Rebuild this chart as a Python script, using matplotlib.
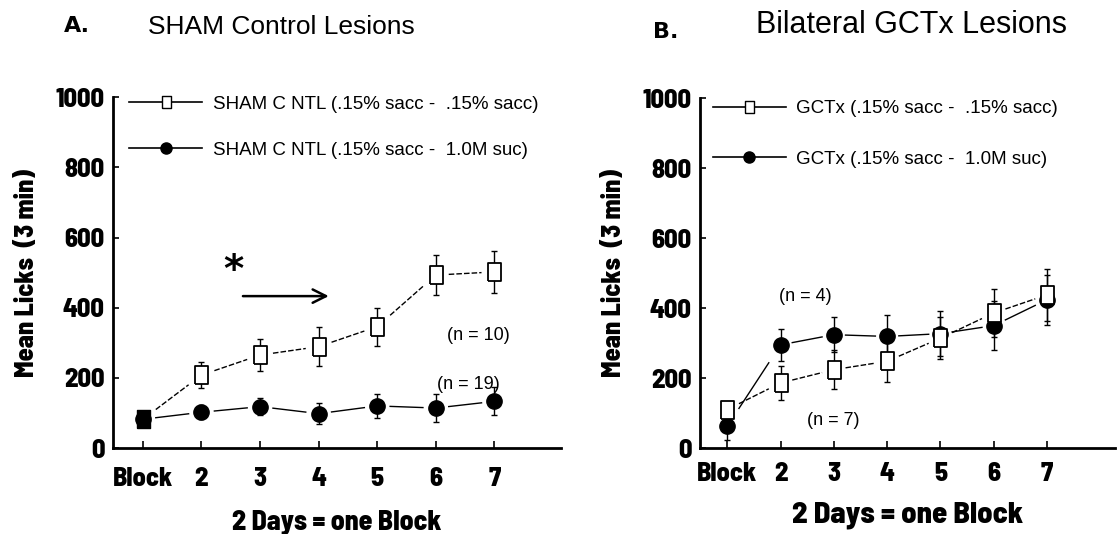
import numpy as np
import matplotlib
matplotlib.use("Agg")
import matplotlib.pyplot as plt
from matplotlib.font_manager import FontProperties

# block positions (1 = "Block" baseline)
blocks = [1, 2, 3, 4, 5, 6, 7]
block_labels = ["Block", "2", "3", "4", "5", "6", "7"]

# A. SHAM control lesions
sham_sacc = [82, 208, 265, 289, 346, 493, 502]
sham_sacc_err = [15, 38, 45, 55, 54, 58, 60]
sham_suc = [82, 102, 118, 98, 120, 114, 133]
sham_suc_err = [15, 20, 25, 30, 35, 40, 40]

# B. Bilateral GCTx lesions
gctx_sacc = [110, 186, 224, 248, 314, 386, 438]
gctx_sacc_err = [20, 48, 55, 60, 60, 70, 75]
gctx_suc = [62, 295, 324, 319, 327, 350, 424]
gctx_suc_err = [38, 45, 50, 60, 65, 70, 72]

sq = [(-0.36, -0.5), (0.36, -0.5), (0.36, 0.5), (-0.36, 0.5), (-0.36, -0.5)]
narrow = ["Barlow Semi Condensed", "Barlow Condensed", "DejaVu Sans"]
plain = ["Liberation Sans", "Arimo", "DejaVu Sans"]


def bold(size):
    return FontProperties(family=narrow, weight=800, size=size)


def broken_line(ax, x, y, ls):
    # thin connecting segments that stop short of the markers
    x = np.asarray(x, float); y = np.asarray(y, float)
    for i in range(len(x) - 1):
        dx = x[i+1] - x[i]; dy = y[i+1] - y[i]
        ax.plot([x[i] + 0.22*dx, x[i+1] - 0.22*dx],
                [y[i] + 0.22*dy, y[i+1] - 0.22*dy],
                color="black", lw=1.0, ls=ls, zorder=2)


def panel(ax, s1, e1, s2, e2, lab1, lab2, xmax, leg_anchor, leg_space,
          xpad, fill_first=False):
    broken_line(ax, blocks, s1, (0, (4, 1.5)))
    broken_line(ax, blocks, s2, "-")
    ax.errorbar(blocks, s1, yerr=e1, fmt="none", ecolor="black",
                elinewidth=1, capsize=2.5, zorder=3)
    ax.errorbar(blocks, s2, yerr=e2, fmt="none", ecolor="black",
                elinewidth=1, capsize=2.5, zorder=3)
    ax.plot(blocks, s2, ls="none", marker="o", ms=11, mfc="black",
            mec="black", zorder=4)
    if fill_first:
        ax.plot(blocks[1:], s1[1:], ls="none", marker=sq, ms=13, mfc="white",
                mec="black", mew=1.3, zorder=5)
        ax.plot(blocks[:1], s1[:1], ls="none", marker=sq, ms=13,
                mfc="black", mec="black", zorder=6)
    else:
        ax.plot(blocks, s1, ls="none", marker=sq, ms=13, mfc="white",
                mec="black", mew=1.3, zorder=5)
    # legend
    h1, = ax.plot([], [], color="black", lw=1.2, marker=sq, ms=9,
                  mfc="white", mec="black")
    h2, = ax.plot([], [], color="black", lw=1.2, marker="o", ms=8,
                  mfc="black", mec="black")
    ax.legend([h1, h2], [lab1, lab2], loc="upper left", frameon=False,
              bbox_to_anchor=leg_anchor, borderaxespad=0, borderpad=0,
              handlelength=3.9, handletextpad=0.55, labelspacing=leg_space,
              prop=dict(family=plain, size=13.5))
    ax.set_xlim(0.49, xmax)
    ax.set_ylim(0, 1000)
    ax.set_xticks(blocks)
    ax.set_xticklabels(block_labels)
    ax.set_yticks([0, 200, 400, 600, 800, 1000])
    for lbl in ax.get_xticklabels() + ax.get_yticklabels():
        lbl.set_fontproperties(bold(19))
    ax.tick_params(axis="x", direction="in", length=5, width=1.2, pad=xpad)
    ax.tick_params(axis="y", direction="in", length=4, width=1.2, pad=6)
    for s in ["top", "right"]:
        ax.spines[s].set_visible(False)
    for s in ["left", "bottom"]:
        ax.spines[s].set_linewidth(2)
    ax.set_ylabel("Mean Licks  (3 min)", fontproperties=bold(19), labelpad=12)


fig = plt.figure(figsize=(11.19, 5.34), dpi=100)
axA = fig.add_axes([0.101, 0.161, 0.400, 0.657])
axB = fig.add_axes([0.6256, 0.161, 0.371, 0.655])

panel(axA, sham_sacc, sham_sacc_err, sham_suc, sham_suc_err,
      "SHAM C NTL (.15% sacc -  .15% sacc)",
      "SHAM C NTL (.15% sacc -  1.0M suc)", 8.13,
      (0.036, 1.005), 1.55, 14, fill_first=True)
panel(axB, gctx_sacc, gctx_sacc_err, gctx_suc, gctx_suc_err,
      "GCTx (.15% sacc -  .15% sacc)",
      "GCTx (.15% sacc -  1.0M suc)", 8.28,
      (0.031, 0.995), 1.8, 10)

axA.set_xlabel("2 Days = one Block", fontproperties=bold(20), labelpad=13)
axB.set_xlabel("2 Days = one Block", fontproperties=bold(22), labelpad=11)

# annotations
axA.text(2.54, 505, "*", fontsize=28, fontweight="bold", ha="center", va="center")
axA.annotate("", xy=(4.22, 433), xytext=(2.66, 433),
             arrowprops=dict(arrowstyle="->", lw=1.8, color="black",
                             mutation_scale=24))
axA.text(6.73, 322, "(n = 10)", fontsize=13, family=plain, ha="center", va="center")
axA.text(6.56, 180, "(n = 19)", fontsize=13, family=plain, ha="center", va="center")
axB.text(2.46, 434, "(n = 4)", fontsize=13, family=plain, ha="center", va="center")
axB.text(2.99, 80, "(n = 7)", fontsize=13, family=plain, ha="center", va="center")

# panel titles
fig.text(0.057, 0.952, "A.", fontsize=16, fontweight="bold", family=["DejaVu Sans"], va="center")
fig.text(0.132, 0.950, "SHAM Control Lesions", fontsize=19, family=plain, va="center")
fig.text(0.584, 0.940, "B.", fontsize=16, fontweight="bold", family=["DejaVu Sans"], va="center")
fig.text(0.676, 0.954, "Bilateral GCTx Lesions", fontsize=22, family=plain, va="center")

fig.savefig("out.png", dpi=100)
